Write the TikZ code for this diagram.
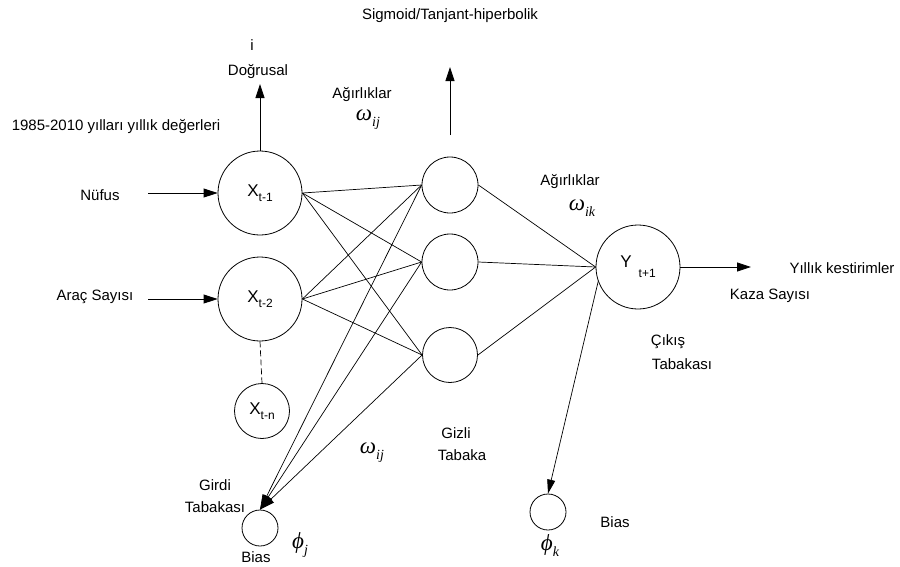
\documentclass[tikz,border=0pt]{standalone}
\usepackage{fontspec}
\setmainfont{Liberation Sans}
\newfontfamily\greekserif{Liberation Serif}
\usetikzlibrary{arrows.meta}
\begin{document}
\begin{tikzpicture}[x=1pt,y=-1pt,
  lbl/.style={font=\fontsize{15}{17}\selectfont, inner sep=0pt, align=center},
  neuron/.style={circle, draw, line width=0.8pt, inner sep=0pt},
  wire/.style={line width=0.7pt},
  arr/.style={line width=0.8pt, -{Triangle[length=14pt,width=9pt]}},
  wgt/.style={inner sep=0pt, font=\greekserif\itshape\fontsize{23}{25}\selectfont}]
\useasboundingbox (0,0) rectangle (900,566);

% input layer
\node[neuron, minimum size=84pt] (x1) at (260,193)
  {\fontsize{17}{19}\selectfont X\raisebox{-5pt}{\fontsize{12}{13}\selectfont t-1}};
\node[neuron, minimum size=84pt] (x2) at (260,299)
  {\fontsize{17}{19}\selectfont X\raisebox{-5pt}{\fontsize{12}{13}\selectfont t-2}};
\node[neuron, minimum size=55pt] (xn) at (262,411)
  {\fontsize{17}{19}\selectfont X\raisebox{-5pt}{\fontsize{12}{13}\selectfont t-n}};

% hidden layer
\node[neuron, minimum size=56pt] (h1) at (450,185) {};
\node[neuron, minimum size=56pt] (h2) at (450,262) {};
\node[neuron, minimum size=55pt] (h3) at (450,355) {};

% output neuron
\node[neuron, minimum size=84pt] (y) at (638,267)
  {\fontsize{17}{19}\selectfont Y\hspace{7pt}\raisebox{-10pt}{\fontsize{12}{13}\selectfont t+1}};

% bias units
\node[neuron, minimum size=36pt] (bj) at (260,528) {};
\node[neuron, minimum size=36pt] (bk) at (548,512) {};

% input -> hidden weights
\foreach \i in {x1,x2}
  \foreach \j in {h1,h2,h3}
    \draw[wire] (\i.east) -- (\j.west);
% hidden -> output weights
\foreach \j in {h1,h2,h3}
  \draw[wire] (\j.east) -- (y.west);

% bias arrows
\foreach \j in {h1,h2,h3}
  \draw[wire, -{Triangle[length=15pt,width=9pt]}] (\j.west) -- (bj.north);
\draw[wire, -{Triangle[length=14pt,width=8pt]}] (y.200) -- (bk.north);

% dashed link to the last input
\draw[wire, dash pattern=on 6pt off 3pt] (x2.south) -- (xn.north);

% activation arrows
\coordinate (ax1) at (260,84);
\coordinate (hb) at (450,135);
\coordinate (ah) at (450,67);
\draw[arr] (x1.north) -- (ax1);
\draw[arr] (hb) -- (ah);

% input arrows
\coordinate (inA) at (148,193);
\coordinate (inB) at (148,299);
\draw[arr] (inA) -- (x1.west);
\draw[arr] (inB) -- (x2.west);

% output arrow
\coordinate (out) at (751,267);
\draw[arr] (y.east) -- (out);

% labels
\node[lbl] (tsig) at (450,16) {Sigmoid/Tanjant-hiperbolik};
\node[lbl] (ti) at (252,45) {i};
\node[lbl] (tdog) at (258,72) {Doğrusal};
\node[lbl] (tag1) at (362,95) {Ağırlıklar};
\node[wgt] (w1) at (368,120) {ω\raisebox{-6pt}{\fontsize{14}{15}\selectfont ij}};
\node[lbl] (tyear) at (116,127) {1985-2010 yılları yıllık değerleri};
\node[lbl] (tnuf) at (100,195) {Nüfus};
\node[lbl] (tarac) at (95,297) {Araç Sayısı};
\node[lbl] (tag2) at (570,182) {Ağırlıklar};
\node[wgt] (w2) at (582,208) {ω\raisebox{-6pt}{\fontsize{14}{15}\selectfont ik}};
\node[lbl] (tyil) at (842,268) {Yıllık kestirimler};
\node[lbl] (tkaza) at (770,296) {Kaza Sayısı};
\node[lbl] (tcik) at (668,342) {Çıkış};
\node[lbl] (ttab1) at (682,364) {Tabakası};
\node[wgt] (w3) at (372,453) {ω\raisebox{-6pt}{\fontsize{14}{15}\selectfont ij}};
\node[lbl] (tgiz) at (456,433) {Gizli};
\node[lbl] (ttab2) at (462,455) {Tabaka};
\node[lbl] (tgir) at (215,485) {Girdi};
\node[lbl] (ttab3) at (215,507) {Tabakası};
\node[wgt] (pj) at (300,545) {ϕ\raisebox{-6pt}{\fontsize{14}{15}\selectfont j}};
\node[lbl] (tbias1) at (256,557) {Bias};
\node[wgt] (pk) at (550,546) {ϕ\raisebox{-6pt}{\fontsize{14}{15}\selectfont k}};
\node[lbl] (tbias2) at (615,522) {Bias};
\end{tikzpicture}
\end{document}
